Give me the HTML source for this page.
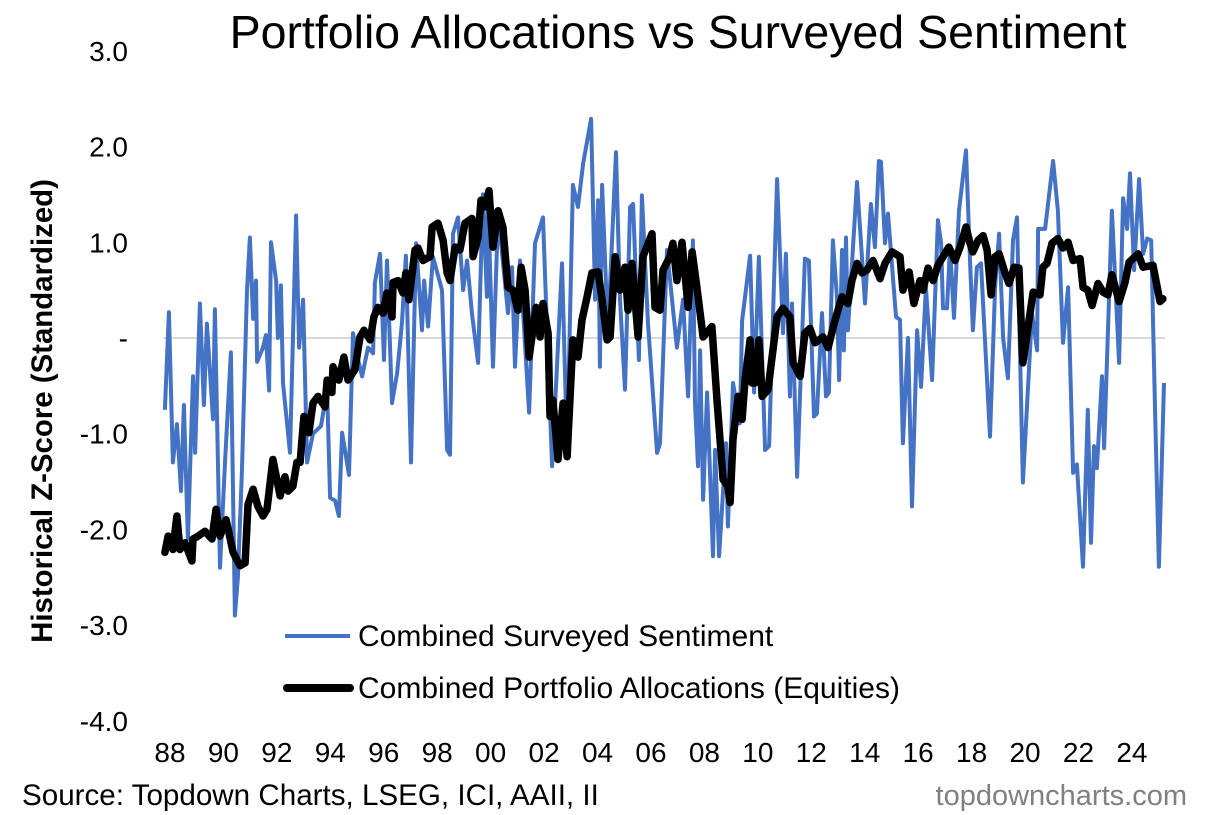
<!DOCTYPE html>
<html><head><meta charset="utf-8"><style>
body{margin:0;background:#fff;}
svg{display:block;font-family:"Liberation Sans",Arial,sans-serif;}
</style></head><body>
<svg id="chart" width="1220" height="815" viewBox="0 0 1220 815">
<text x="678" y="48" text-anchor="middle" font-size="46.5" fill="#000">Portfolio Allocations vs Surveyed Sentiment</text>
<text transform="translate(52,411) rotate(-90)" text-anchor="middle" font-size="29.4" font-weight="bold" fill="#000">Historical Z-Score (Standardized)</text>
<g id="yticks"></g>
<g id="xticks"></g>
<line x1="163" y1="338" x2="1165" y2="338" stroke="#d9d9d9" stroke-width="2"/>
<g id="series"></g>
<g>
<line x1="285" y1="636" x2="350" y2="636" stroke="#4472c4" stroke-width="4"/>
<text x="358" y="646" font-size="30" fill="#000">Combined Surveyed Sentiment</text>
<line x1="287" y1="688" x2="350" y2="688" stroke="#000" stroke-width="8" stroke-linecap="round"/>
<text x="358" y="698" font-size="30" fill="#000">Combined Portfolio Allocations (Equities)</text>
</g>
<text x="22" y="805" font-size="29.6" fill="#000">Source: Topdown Charts, LSEG, ICI, AAII, II</text>
<text x="1187" y="805" text-anchor="end" font-size="29" fill="#808080">topdowncharts.com</text>
</svg>
<script>
const yTickValues=[3,2,1,0,-1,-2,-3,-4];
const yTickLabels=["3.0","2.0","1.0","-","-1.0","-2.0","-3.0","-4.0"];
const xTickYears=[1988,1990,1992,1994,1996,1998,2000,2002,2004,2006,2008,2010,2012,2014,2016,2018,2020,2022,2024];
const xTickLabels=["88","90","92","94","96","98","00","02","04","06","08","10","12","14","16","18","20","22","24"];
const sentDates=[1987.81,1987.96,1988.11,1988.26,1988.41,1988.52,1988.67,1988.86,1988.94,1989.12,1989.27,1989.38,1989.61,1989.68,1989.87,1990.06,1990.28,1990.43,1990.54,1990.69,1990.88,1990.99,1991.11,1991.22,1991.26,1991.48,1991.59,1991.71,1991.78,1991.97,1992.04,1992.15,1992.23,1992.49,1992.72,1992.83,1992.98,1993.13,1993.35,1993.65,1993.88,1993.99,1994.18,1994.32,1994.44,1994.70,1994.85,1995.04,1995.19,1995.41,1995.60,1995.67,1995.86,1996.01,1996.12,1996.31,1996.50,1996.68,1996.83,1997.02,1997.21,1997.43,1997.51,1997.66,1997.84,1998.18,1998.37,1998.48,1998.59,1998.78,1998.97,1999.12,1999.30,1999.53,1999.71,1999.86,1999.90,2000.09,2000.28,2000.65,2000.80,2000.91,2001.10,2001.44,2001.66,2001.96,2002.11,2002.30,2002.67,2002.86,2003.08,2003.27,2003.46,2003.76,2003.91,2004.02,2004.09,2004.17,2004.39,2004.69,2004.84,2005.03,2005.22,2005.33,2005.55,2005.66,2005.89,2006.23,2006.34,2006.60,2006.97,2007.20,2007.39,2007.57,2007.65,2007.76,2007.84,2007.95,2008.10,2008.32,2008.40,2008.55,2008.81,2008.88,2009.07,2009.33,2009.41,2009.71,2009.86,2010.04,2010.27,2010.42,2010.72,2010.94,2011.05,2011.20,2011.28,2011.47,2011.76,2011.91,2012.10,2012.21,2012.40,2012.55,2012.66,2012.81,2012.96,2013.04,2013.15,2013.22,2013.30,2013.37,2013.71,2014.01,2014.23,2014.38,2014.53,2014.61,2014.76,2014.87,2015.17,2015.32,2015.43,2015.62,2015.77,2015.96,2016.11,2016.29,2016.52,2016.74,2016.86,2016.93,2017.08,2017.19,2017.34,2017.53,2017.79,2017.94,2018.05,2018.20,2018.35,2018.69,2018.88,2019.03,2019.18,2019.36,2019.55,2019.70,2019.92,2020.26,2020.45,2020.49,2020.75,2021.05,2021.23,2021.42,2021.61,2021.80,2021.94,2022.17,2022.35,2022.47,2022.58,2022.69,2022.88,2022.96,2023.07,2023.25,2023.52,2023.67,2023.82,2023.93,2024.08,2024.27,2024.42,2024.57,2024.72,2024.87,2025.01,2025.20];
const sentValues=[-0.75,0.27,-1.3,-0.9,-1.6,-0.7,-2.1,-0.4,-1.2,0.36,-0.7,0.15,-0.85,0.3,-2.4,-1.3,-0.15,-2.9,-2.5,-1.4,0.5,1.05,0.2,0.6,-0.25,-0.1,0.03,-0.55,1.0,0.6,0,0.55,-0.47,-1.2,1.28,-0.1,0.4,-1.3,-1.0,-0.92,-0.54,-1.67,-1.7,-1.86,-0.99,-1.43,0.05,-0.23,-0.4,-0.1,-0.16,0.58,0.88,-0.23,0.81,-0.68,-0.37,0.15,0.86,-1.3,0.99,0.08,0.6,0.12,0.85,0.5,-1.17,-1.22,1.09,1.26,0.5,0.81,0.26,-0.26,1.5,0.43,1.44,-0.3,1.3,0.26,0.74,-0.3,0.81,-0.78,0.99,1.26,0.08,-1.34,0.78,-1.17,1.6,1.37,1.82,2.29,0.4,1.44,-0.3,1.6,0.05,1.94,0.4,-0.54,1.37,1.4,-0.23,1.49,0.15,-1.2,-1.1,0.92,-0.1,0.4,-0.61,1.02,-0.68,-1.34,-0.13,-1.69,-0.57,-2.28,-1.17,-2.28,-1.1,-1.97,-0.47,-0.89,0.18,0.86,-0.57,0.85,-1.17,-1.13,1.66,0.05,0.88,-0.61,0.36,-1.45,0.83,0.81,-0.82,-0.79,0.26,-0.61,-0.57,1.02,0.43,-0.44,0.92,-0.13,1.05,0.08,1.63,0.36,1.4,0.95,1.85,1.84,0.99,1.3,0.22,0.19,-1.1,0,-1.76,0.08,-0.51,0.53,-0.44,1.23,0.99,0.31,0.31,0.95,0.21,1.33,1.96,0.81,0.08,0.74,0.78,-1.03,0.53,1.09,0,-0.42,1.02,1.26,-1.51,0.26,-0.13,1.14,1.14,1.85,1.33,-0.05,0.53,-1.41,-1.32,-2.39,-0.75,-2.14,-1.13,-1.36,-0.4,-1.15,-0.2,1.33,-0.26,1.46,1.14,1.72,0.71,1.66,0.88,1.04,1.02,-0.82,-2.39,-0.47];
const allocDates=[1987.81,1987.93,1988.11,1988.26,1988.37,1988.56,1988.82,1988.86,1989.05,1989.31,1989.57,1989.72,1989.87,1990.10,1990.36,1990.62,1990.81,1990.92,1991.11,1991.29,1991.48,1991.63,1991.85,1992.12,1992.30,1992.42,1992.60,1992.75,1992.87,1993.01,1993.20,1993.35,1993.54,1993.80,1993.88,1994.06,1994.10,1994.32,1994.51,1994.66,1994.92,1995.11,1995.26,1995.49,1995.63,1995.78,1995.97,1996.12,1996.31,1996.35,1996.53,1996.72,1996.83,1996.94,1997.17,1997.28,1997.47,1997.73,1997.81,1998.03,1998.22,1998.37,1998.48,1998.67,1998.85,1999.04,1999.30,1999.34,1999.53,1999.64,1999.79,1999.94,2000.09,2000.28,2000.46,2000.65,2000.84,2001.02,2001.14,2001.29,2001.44,2001.70,2001.85,2001.96,2002.15,2002.22,2002.33,2002.52,2002.71,2002.86,2003.08,2003.27,2003.42,2003.61,2003.79,2004.02,2004.17,2004.36,2004.47,2004.66,2004.84,2005.03,2005.14,2005.29,2005.52,2005.70,2006.04,2006.15,2006.34,2006.45,2006.71,2006.82,2006.97,2007.16,2007.39,2007.54,2007.72,2007.95,2008.28,2008.47,2008.70,2008.88,2008.96,2009.07,2009.26,2009.41,2009.52,2009.71,2009.78,2009.89,2010.04,2010.16,2010.38,2010.72,2010.94,2011.20,2011.32,2011.58,2011.76,2011.95,2012.14,2012.44,2012.63,2012.89,2013.15,2013.37,2013.52,2013.71,2013.90,2014.08,2014.31,2014.57,2014.76,2015.02,2015.32,2015.43,2015.66,2015.84,2016.07,2016.18,2016.37,2016.56,2016.74,2016.93,2017.15,2017.38,2017.57,2017.79,2017.94,2018.05,2018.24,2018.43,2018.58,2018.73,2018.88,2019.03,2019.25,2019.40,2019.59,2019.77,2019.92,2020.11,2020.30,2020.56,2020.67,2020.82,2021.01,2021.23,2021.42,2021.61,2021.80,2022.06,2022.17,2022.35,2022.51,2022.73,2022.92,2023.10,2023.25,2023.52,2023.74,2023.89,2024.23,2024.42,2024.79,2025.05,2025.16];
const allocValues=[-2.24,-2.07,-2.21,-1.86,-2.21,-2.14,-2.33,-2.1,-2.07,-2.02,-2.1,-1.79,-2.07,-1.9,-2.24,-2.38,-2.35,-1.74,-1.58,-1.76,-1.86,-1.79,-1.27,-1.65,-1.45,-1.6,-1.55,-1.3,-1.3,-0.82,-0.99,-0.68,-0.61,-0.72,-0.44,-0.57,-0.3,-0.44,-0.2,-0.44,-0.33,0.01,0.08,-0.02,0.22,0.32,0.26,0.47,0.22,0.58,0.6,0.47,0.68,0.4,0.92,0.94,0.81,0.85,1.16,1.2,1.02,0.68,0.6,0.95,0.92,1.2,1.25,0.85,1.05,1.44,1.37,1.54,0.95,1.33,1.16,0.53,0.5,0.29,0.74,0.5,-0.2,0.32,0.01,0.36,0.05,-0.82,-0.65,-1.27,-0.68,-1.24,-0.02,-0.2,0.19,0.43,0.68,0.69,0.4,-0.02,0.01,0.85,0.5,0.74,0.29,0.78,0.01,0.85,1.09,0.32,0.29,0.71,0.85,0.99,0.6,1.0,0.32,0.9,0.53,0.01,0.12,-0.65,-1.48,-1.55,-1.72,-1.06,-0.61,-0.85,-0.44,-0.02,-0.47,-0.47,-0.02,-0.61,-0.54,0.22,0.31,0.22,-0.26,-0.4,0.05,0.1,-0.05,0.01,-0.1,0.19,0.43,0.36,0.6,0.78,0.68,0.71,0.81,0.62,0.78,0.9,0.85,0.5,0.69,0.36,0.6,0.5,0.73,0.6,0.76,0.85,0.95,0.81,0.95,1.16,0.99,0.9,1.02,1.07,0.92,0.45,0.85,0.88,0.68,0.57,0.74,0.73,-0.26,0.11,0.48,0.45,0.74,0.78,0.99,1.04,0.94,1.0,0.81,0.83,0.53,0.5,0.34,0.57,0.48,0.45,0.66,0.38,0.58,0.79,0.88,0.74,0.76,0.38,0.41];

const NS="http://www.w3.org/2000/svg";
function xScale(t){return 170+(t-1988)*26.72;}
function yScale(v){return 338-v*95.7;}

const yg=document.getElementById('yticks');
yTickValues.forEach((v,i)=>{
  const t=document.createElementNS(NS,'text');
  t.setAttribute('x',128);t.setAttribute('y',yScale(v)+10);
  t.setAttribute('text-anchor','end');t.setAttribute('font-size','28');
  t.textContent=yTickLabels[i];
  
  
  yg.appendChild(t);
});
const xg=document.getElementById('xticks');
xTickYears.forEach((yr,i)=>{
  const t=document.createElementNS(NS,'text');
  t.setAttribute('x',xScale(yr));t.setAttribute('y',762);
  t.setAttribute('text-anchor','middle');t.setAttribute('font-size','28');
  t.textContent=xTickLabels[i];
  
  
  xg.appendChild(t);
});
function pathFor(d,v){return d.map((t,i)=>(i?'L':'M')+xScale(t).toFixed(1)+','+yScale(v[i]).toFixed(1)).join(' ');}
const sg=document.getElementById('series');
const p1=document.createElementNS(NS,'path');
p1.setAttribute('d',pathFor(sentDates,sentValues));
p1.setAttribute('fill','none');p1.setAttribute('stroke','#4472c4');p1.setAttribute('stroke-width','4');p1.setAttribute('stroke-linejoin','round');


sg.appendChild(p1);
const p2=document.createElementNS(NS,'path');
p2.setAttribute('d',pathFor(allocDates,allocValues));
p2.setAttribute('fill','none');p2.setAttribute('stroke','#000');p2.setAttribute('stroke-width','7.5');p2.setAttribute('stroke-linejoin','round');p2.setAttribute('stroke-linecap','round');


sg.appendChild(p2);
</script>
</body></html>
